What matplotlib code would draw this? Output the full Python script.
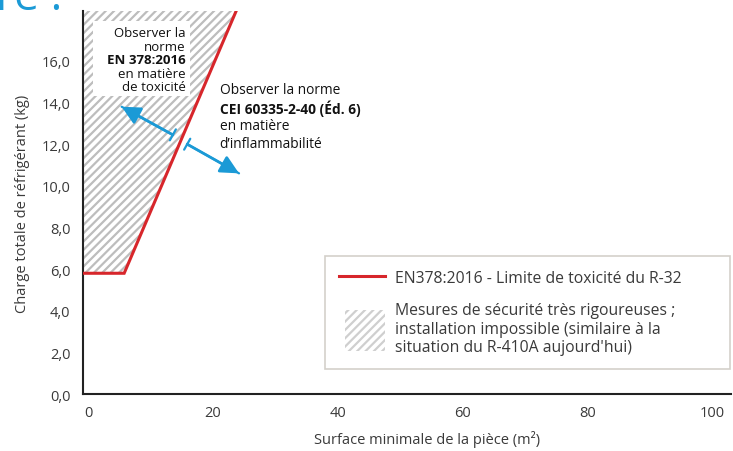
import matplotlib.pyplot as plt
from matplotlib.patches import Rectangle
from matplotlib.lines import Line2D
from matplotlib.legend_handler import HandlerPatch

plt.rcParams['font.family'] = ['Open Sans', 'DejaVu Sans']
plt.rcParams['hatch.linewidth'] = 1.6

# donnees
surface = [-0.8, 5.8, 24.6]        # m2
charge = [5.8, 5.8, 19.0]          # kg (limite de toxicite R-32)
x_ticks = [0, 20, 40, 60, 80, 100]
y_ticks = [0, 2, 4, 6, 8, 10, 12, 14, 16]
y_top = 18.4

rouge = '#d7262b'
bleu = '#1b9ad6'
gris_hachure = '#bdbdbd'
texte = '#3a3a3a'


# poignee de legende hachuree plus haute que la ligne de texte
class HandlerHachure(HandlerPatch):
    def create_artists(self, legend, orig_handle, xdescent, ydescent,
                       width, height, fontsize, trans):
        r = Rectangle((-xdescent + 0.13 * width, -ydescent - 1.45 * height), 0.87 * width, 3.7 * height,
                      facecolor='white', edgecolor='#cfcfcf', hatch='////', linewidth=0,
                      transform=trans)
        return [r]


fig = plt.figure(figsize=(7.33, 4.52), dpi=100)
ax = fig.add_axes([0.1132, 0.1261, 0.8838, 0.8474])

# zone hachuree au-dessus de la limite
ax.fill_between(surface, charge, y_top, facecolor='white', edgecolor=gris_hachure,
                hatch='////', linewidth=0, zorder=1)
ax.plot(surface, charge, color=rouge, linewidth=2.2, zorder=3, solid_joinstyle='miter')

ax.set_xlim(-0.8, 103)
ax.set_ylim(0, y_top)
ax.set_xticks(x_ticks)
ax.set_xticklabels([str(v) for v in x_ticks])
ax.set_yticks(y_ticks)
ax.set_yticklabels([f'{v:.1f}'.replace('.', ',') for v in y_ticks])
ax.tick_params(length=0, labelsize=10.5, labelcolor=texte, pad=9)
ax.tick_params(axis='x', pad=8)
for s in ['top', 'right']:
    ax.spines[s].set_visible(False)
for s in ['left', 'bottom']:
    ax.spines[s].set_linewidth(1.5)
    ax.spines[s].set_color('#222222')

ax.set_ylabel('Charge totale de réfrigérant (kg)', fontsize=10.5, color=texte, labelpad=8)
ax.set_xlabel('Surface minimale de la pièce (m²)', fontsize=10.5, color=texte)
ax.xaxis.set_label_coords(0.531, -0.095)

# encadre blanc toxicite
ax.add_patch(Rectangle((0.8, 14.3), 15.6, 3.6, facecolor='white', edgecolor='none', zorder=2))
lignes1 = [('Observer la', 'normal'), ('norme', 'normal'), ('EN 378:2016', 'bold'),
           ('en matière', 'normal'), ('de toxicité', 'normal')]
for i, (t, w) in enumerate(lignes1):
    ax.text(15.7, 17.35 - i * 0.65, t, ha='right', va='center', fontsize=9.5,
            fontweight=w, color='#111111', zorder=4)

lignes2 = [('Observer la norme', 'normal'), ('CEI 60335-2-40 (Éd. 6)', 'bold'),
           ('en matière', 'normal'), ('d’inflammabilité', 'normal')]
for i, (t, w) in enumerate(lignes2):
    ax.text(21.1, 14.62 - i * 0.86, t, ha='left', va='center', fontsize=9.9,
            fontweight=w, color='#111111', zorder=4)

# fleches
for (x0, y0), (x1, y1) in [((13.6, 12.45), (5.4, 13.8)), ((15.9, 12.0), (24.2, 10.6))]:
    ax.annotate('', xy=(x1, y1), xytext=(x0, y0),
                arrowprops=dict(arrowstyle='-|>,head_length=1.1,head_width=0.55',
                                color=bleu, lw=2.0, shrinkA=0, shrinkB=0), zorder=5)
    ax.annotate('', xy=(x1, y1), xytext=(x0, y0),
                arrowprops=dict(arrowstyle=']-,widthA=0.45,lengthA=0',
                                color=bleu, lw=1.6, shrinkA=0, shrinkB=0), zorder=5)

# legende
h_ligne = Line2D([], [], color=rouge, linewidth=2.2)
h_hach = Rectangle((0, 0), 1, 1)
leg = ax.legend([h_ligne, h_hach],
                ['EN378:2016 - Limite de toxicité du R-32',
                 'Mesures de sécurité très rigoureuses ;\ninstallation impossible (similaire à la\nsituation du R-410A aujourd\'hui)'],
                handler_map={Rectangle: HandlerHachure()},
                loc='lower left', bbox_to_anchor=(0.3735, 0.065, 0.6245, 0.3), mode='expand',
                fontsize=11.3, frameon=True, fancybox=False, edgecolor='#c9c5bd',
                handlelength=2.9, handletextpad=0.65, borderpad=0.9, labelspacing=1.05,
                borderaxespad=0)
leg.get_frame().set_linewidth(1.2)
for t in leg.get_texts():
    t.set_color(texte)
    t.set_linespacing(1.2)

# fragment du titre coupe en haut
fig.text(-0.005, 1 - 10 / 452, 're :', fontsize=32, color=bleu, va='baseline', ha='left')

fig.savefig('out.png', dpi=100)
